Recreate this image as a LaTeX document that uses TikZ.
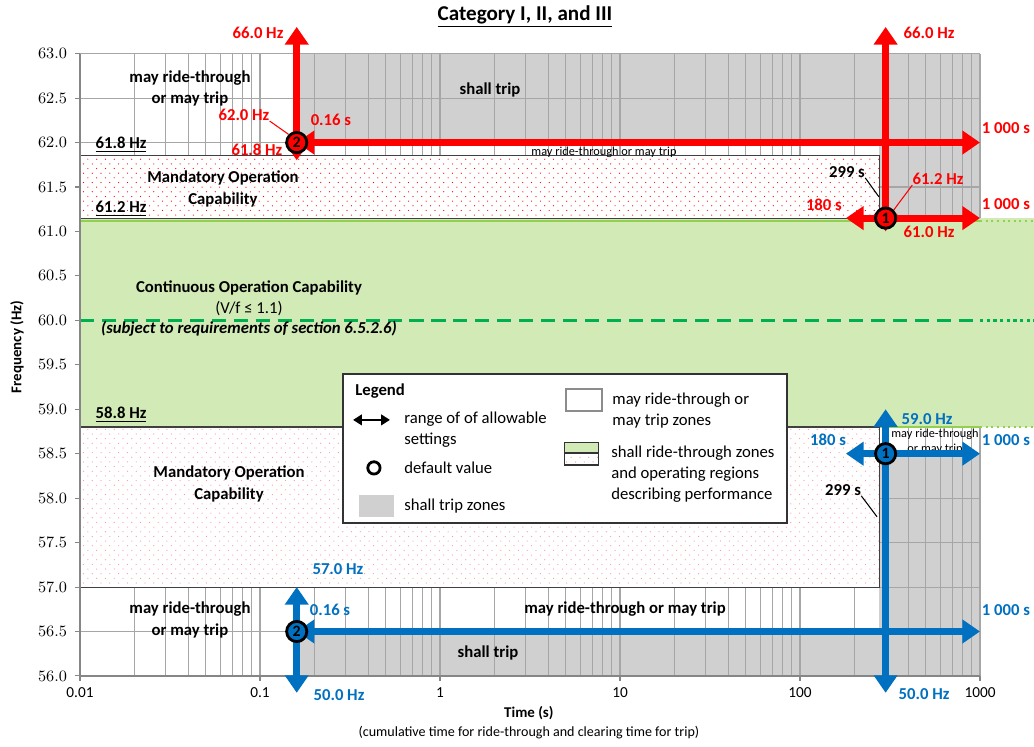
\documentclass[tikz,border=0pt]{standalone}
\usepackage{fontspec}
\setmainfont{Carlito}
\usetikzlibrary{arrows.meta,patterns.meta}

\definecolor{tripgray}{RGB}{208,208,208}
\definecolor{gridgray}{RGB}{166,166,166}
\definecolor{axisgray}{RGB}{134,134,134}
\definecolor{okgreen}{RGB}{210,234,182}
\definecolor{linegreen}{RGB}{146,208,80}
\definecolor{dashgreen}{RGB}{0,176,80}
\definecolor{setred}{RGB}{255,0,0}
\definecolor{setblue}{RGB}{0,112,192}

\tikzdeclarepattern{
	name=sparsedots,
	type=uncolored,
	bottom left={(-.5pt,-.5pt)},
	top right={(5.5pt,5.8pt)},
	tile size={(5pt,5.3pt)},
	code={
		\fill (0pt,0pt) circle [radius=.35pt];
		\fill (2.5pt,2.65pt) circle [radius=.35pt];
	}
}

\begin{document}
\begin{tikzpicture}[x=3.6cm, y=1.778cm,
		gridline/.style={draw=gridgray, line width=.6pt},
		mandbox/.style={draw=black!75, line width=.6pt, preaction={fill=white}, pattern=sparsedots},
		zone/.style={font=\fontsize{9.5}{12}\selectfont\bfseries, align=center, inner sep=0pt},
		plain/.style={font=\fontsize{9.5}{12}\selectfont, align=center, inner sep=0pt},
		tinylbl/.style={font=\fontsize{7}{8.5}\selectfont, align=center, inner sep=0pt},
		redlbl/.style={font=\fontsize{9.5}{11}\selectfont\bfseries, text=setred, inner sep=0pt},
		bluelbl/.style={font=\fontsize{9.5}{11}\selectfont\bfseries, text=setblue, inner sep=0pt},
		blacklbl/.style={font=\fontsize{9.5}{11}\selectfont\bfseries, inner sep=0pt},
		ticklbl/.style={font=\fontsize{8.7}{10}\selectfont, inner sep=0pt},
		axlbl/.style={font=\fontsize{8.5}{10}\selectfont\bfseries, inner sep=0pt},
		setarrow/.style={line width=4pt, >={Triangle[width=13pt,length=10pt]}, <->},
		marker/.style={circle, draw=black, line width=1.6pt, minimum size=11.5pt, inner sep=0pt, font=\fontsize{9}{9}\selectfont\bfseries},
		leader/.style={line width=.6pt},
		legtxt/.style={font=\fontsize{9.5}{12}\selectfont, align=left, anchor=west, inner sep=0pt},
		legarrow/.style={line width=1.2pt, >={Triangle[width=6pt,length=5pt]}, <->},
		legmark/.style={circle, draw=black, line width=1.6pt, minimum size=7pt, inner sep=0pt}]
	\useasboundingbox (-2.4444,55.2126) rectangle (3.3,63.604);
	% Bereiche shall trip
	\fill [tripgray] (-0.7959,62) rectangle (3,63);
	\fill [tripgray] (2.44,61.15) rectangle (3,62);
	\fill [tripgray] (2.44,56) rectangle (3,58.5);
	\fill [tripgray] (-0.7959,56) rectangle (3,56.5);
	% Gitter
	\foreach \k in {-2,...,2}
		\foreach \m in {1,...,9}
			\draw [gridline] ({\k+log10(\m)},56) -- ({\k+log10(\m)},63);
	\draw [gridline] (3,56) -- (3,63);
	\foreach \f in {56.5,57.0,...,63.0}
		\draw [gridline] (-2,\f) -- (3,\f);
	% Dauerbetrieb
	\fill [okgreen] (-2,58.8) rectangle (3.3,61.15);
	\draw [linegreen, line width=1.2pt] (-2,61.12) -- (3,61.12);
	\draw [linegreen, line width=1.2pt] (2.44,58.8) -- (3,58.8);
	\draw [linegreen, line width=1.2pt, dotted] (3,61.12) -- (3.3,61.12);
	\draw [linegreen, line width=1.2pt, dotted] (3,58.8) -- (3.3,58.8);
	\draw [dashgreen, line width=1.8pt, dash pattern=on 8pt off 4.5pt] (-2,60) -- (3,60);
	\draw [dashgreen, line width=1.8pt, dotted] (3,60) -- (3.3,60);
	% Mandatory Operation
	\draw [mandbox, pattern color=setred] (-2,61.15) rectangle (2.44,61.85);
	\draw [mandbox, pattern color=red!40] (-2,57) rectangle (2.44,58.8);
	% Achsen
	\draw [axisgray, line width=.8pt] (-2,56) -- (-2,63);
	\draw [axisgray, line width=1pt] (-2,56) -- (3,56);
	\foreach \f [count=\i] in {56.0,56.5,...,63.0} {
		\draw [axisgray, line width=.6pt] (-2.028,\f) -- (-2,\f);
		\node [ticklbl, anchor=east] (ytick\i) at (-2.07,\f) {\pgfmathprintnumber[fixed,fixed zerofill,precision=1]{\f}};
	}
	\foreach \k/\t in {-2/0.01,-1/0.1,0/1,1/10,2/100,3/1000} {
		\draw [axisgray, line width=.6pt] (\k,56) -- (\k,55.94);
		\node [ticklbl] (xtick\t) at (\k,55.81) {\t};
	}
	\node [axlbl, rotate=90] (yTitle) at (-2.35,59.70) {Frequency (Hz)};
	\node [axlbl] (xTitle) at (0.494,55.584) {Time (s)};
	\node [ticklbl, font=\fontsize{8}{10}\selectfont] (xNote) at (0.494,55.359) {(cumulative time for ride-through and clearing time for trip)};
	\node [font=\fontsize{12}{14}\selectfont\bfseries, inner sep=0pt] (title) at (0.472,63.42) {\underline{Category I, II, and III}};
	% Beschriftung der Bereiche
	\node [zone] (topRide) at (-1.389,62.608) {may ride-through\\or may trip};
	\node [zone] (topTrip) at (0.278,62.592) {shall trip};
	\node [zone] (lbl618) at (-1.772,61.973) {\underline{61.8 Hz}};
	\node [zone] (topMand) at (-1.206,61.478) {Mandatory Operation\\Capability};
	\node [zone] (lbl612) at (-1.772,61.253) {\underline{61.2 Hz}};
	\node [zone] (contOp) at (-1.061,60.364) {Continuous Operation Capability};
	\node [plain] (contVf) at (-1.061,60.128) {(V/f ≤ 1.1)};
	\node [zone, font=\fontsize{9.5}{12}\selectfont\bfseries\itshape] (contSub) at (-1.061,59.903) {(subject to requirements of section 6.5.2.6)};
	\node [zone] (lbl588) at (-1.772,58.936) {\underline{58.8 Hz}};
	\node [zone] (lowMand) at (-1.172,58.160) {Mandatory Operation\\Capability};
	\node [zone] (lowRide) at (-1.389,56.630) {may ride-through\\or may trip};
	\node [zone] (midRide) at (1.028,56.754) {may ride-through or may trip};
	\node [zone] (lowTrip) at (0.267,56.259) {shall trip};
	\node [tinylbl] (redRide) at (0.911,61.894) {may ride-through or may trip};
	\node [tinylbl] (blueRide) at (2.75,58.63) {may ride-through\\or may trip};
	% Einstellbereiche rot
	\coordinate (rTwoC) at (-0.7959,62);
	\coordinate (rTwoLo) at (-0.7959,61.8);
	\coordinate (rTwoHi) at (-0.7959,63.3);
	\coordinate (rTwoEnd) at (3,62);
	\coordinate (rOneC) at (2.4757,61.15);
	\coordinate (rOneLo) at (2.4757,61.0);
	\coordinate (rOneHi) at (2.4757,63.3);
	\coordinate (rOneL) at (2.2553,61.15);
	\coordinate (rOneR) at (3,61.15);
	\draw [setarrow, setred] (rTwoLo) -- (rTwoHi);
	\draw [setarrow, setred] (rTwoC) -- (rTwoEnd);
	\draw [setarrow, setred] (rOneLo) -- (rOneHi);
	\draw [setarrow, setred] (rOneL) -- (rOneR);
	\node [marker, fill=setred] (rTwo) at (rTwoC) {2};
	\node [marker, fill=setred] (rOne) at (rOneC) {1};
	% Einstellbereiche blau
	\coordinate (bOneC) at (2.4757,58.5);
	\coordinate (bOneLo) at (2.4757,55.81);
	\coordinate (bOneHi) at (2.4757,59.0);
	\coordinate (bOneL) at (2.2553,58.5);
	\coordinate (bOneR) at (3,58.5);
	\coordinate (bTwoC) at (-0.7959,56.5);
	\coordinate (bTwoLo) at (-0.7959,55.81);
	\coordinate (bTwoHi) at (-0.7959,57.0);
	\coordinate (bTwoEnd) at (3,56.5);
	\draw [setarrow, setblue] (bOneLo) -- (bOneHi);
	\draw [setarrow, setblue] (bOneL) -- (bOneR);
	\draw [setarrow, setblue] (bTwoLo) -- (bTwoHi);
	\draw [setarrow, setblue] (bTwoC) -- (bTwoEnd);
	\node [marker, fill=setblue] (bOne) at (bOneC) {1};
	\node [marker, fill=setblue] (bTwo) at (bTwoC) {2};
	% Werte rot
	\node [redlbl] (rF66a) at (-1.011,63.233) {66.0 Hz};
	\node [redlbl] (rF62) at (-1.089,62.31) {62.0 Hz};
	\node [redlbl] (rT016) at (-0.606,62.254) {0.16 s};
	\node [redlbl] (rF618) at (-1.017,61.917) {61.8 Hz};
	\node [redlbl] (rF66b) at (2.717,63.233) {66.0 Hz};
	\node [redlbl] (rT1000a) at (3.144,62.164) {1 000 s};
	\node [blacklbl] (rT299) at (2.261,61.669) {299 s};
	\node [redlbl] (rF612) at (2.767,61.59) {61.2 Hz};
	\node [redlbl] (rT180) at (2.133,61.298) {180 s};
	\node [redlbl] (rT1000b) at (3.144,61.309) {1 000 s};
	\node [redlbl] (rF610) at (2.717,60.994) {61.0 Hz};
	\coordinate (boxTipUp) at (2.438,61.39);
	\draw [leader, setred] (rF62.south east) -- (rTwo.north west);
	\draw [leader, setred] (rF612.south west) -- (rOne.north east);
	\draw [leader] (rT299.south east) -- (boxTipUp);
	% Werte blau
	\node [bluelbl] (bF59) at (2.706,58.885) {59.0 Hz};
	\node [bluelbl] (bT180) at (2.156,58.655) {180 s};
	\node [bluelbl] (bT1000a) at (3.144,58.655) {1 000 s};
	\node [blacklbl] (bT299) at (2.239,58.092) {299 s};
	\node [bluelbl] (bF50a) at (2.689,55.798) {50.0 Hz};
	\node [bluelbl] (bT1000b) at (3.144,56.742) {1 000 s};
	\node [bluelbl] (bF57) at (-0.567,57.204) {57.0 Hz};
	\node [bluelbl] (bT016) at (-0.611,56.742) {0.16 s};
	\node [bluelbl] (bF50b) at (-0.561,55.786) {50.0 Hz};
	\coordinate (boxTipLo) at (2.428,57.79);
	\draw [leader] (bT299.south east) -- (boxTipLo);
	% Legende
	\draw [fill=white, draw=black!80, line width=.8pt] (-0.539,57.721) rectangle (1.928,59.397);
	\node [legtxt, font=\fontsize{9.5}{12}\selectfont\bfseries] (legHead) at (-0.472,59.206) {Legend};
	\coordinate (legArrL) at (-0.483,58.88);
	\coordinate (legArrR) at (-0.278,58.88);
	\draw [legarrow] (legArrL) -- (legArrR);
	\node [legtxt] (legRange) at (-0.2,58.767) {range of of allowable\\settings};
	\node [legmark] (legDot) at (-0.367,58.34) {};
	\node [legtxt] (legDefault) at (-0.2,58.34) {default value};
	\fill [tripgray] (-0.45,57.789) rectangle (-0.256,58.036);
	\node [legtxt] (legTrip) at (-0.2,57.912) {shall trip zones};
	\draw [draw=black!45, line width=.8pt] (0.7,58.981) rectangle (0.9,59.228);
	\node [legtxt] (legMay) at (0.956,58.987) {may ride-through or\\may trip zones};
	\fill [okgreen] (0.694,58.508) rectangle (0.883,58.621);
	\path [pattern=sparsedots, pattern color=red!45] (0.694,58.373) rectangle (0.883,58.508);
	\draw [black!80, line width=.6pt] (0.694,58.373) rectangle (0.883,58.621) (0.694,58.508) -- (0.883,58.508);
	\node [legtxt] (legShall) at (0.95,58.272) {shall ride-through zones\\and operating regions\\describing performance};
\end{tikzpicture}
\end{document}
